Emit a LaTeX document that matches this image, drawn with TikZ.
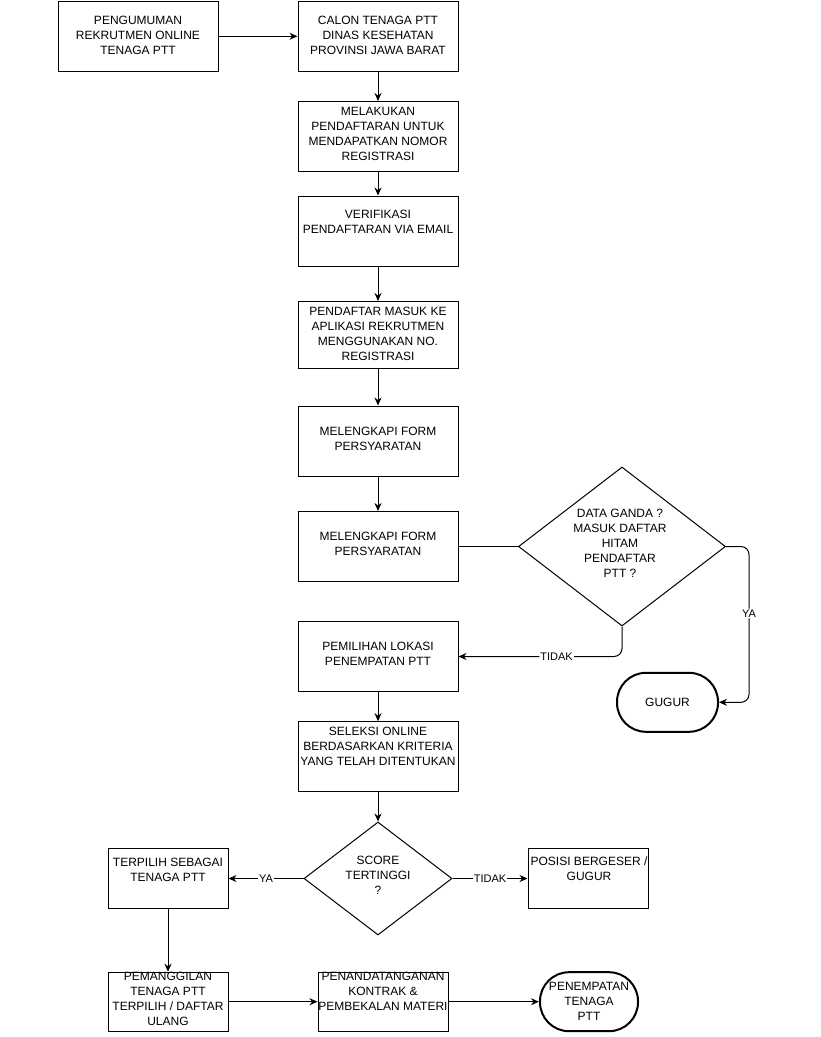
\documentclass[tikz,border=0pt]{standalone}
\usepackage{fontspec}
\setmainfont{Liberation Sans}
\usetikzlibrary{shapes.geometric,arrows.meta}
\begin{document}
\begin{tikzpicture}[x=1pt,y=-1pt,
  box/.style={draw, line width=1pt, fill=white, rectangle, inner sep=0pt, minimum width=160pt, minimum height=70pt},
  txt/.style={align=center, font=\fontsize{12}{15}\selectfont, inner sep=0pt},
  term/.style={draw, line width=2pt, fill=white, rectangle, rounded corners=29pt, inner sep=0pt, minimum width=100pt, minimum height=60pt},
  dia/.style={draw, line width=1pt, fill=white, diamond, inner sep=0pt},
  arr/.style={line width=1pt, -{Stealth[length=8pt,width=7pt]}},
  ln/.style={line width=1pt},
  lab/.style={fill=white, inner sep=1pt, font=\fontsize{11}{13}\selectfont}]

\path[use as bounding box, fill=white] (0,0) rectangle (820,1037);

% main column
\node[box] (b1) at (138,36.3) {};
\node[txt] (t1) at (138,35) {PENGUMUMAN\\REKRUTMEN ONLINE\\TENAGA PTT};
\node[box] (b2) at (378,36.3) {};
\node[txt] (t2) at (378,35) {CALON TENAGA PTT\\DINAS KESEHATAN\\PROVINSI JAWA BARAT};
\node[box] (b3) at (378,136.5) {};
\node[txt] (t3) at (378,134) {MELAKUKAN\\PENDAFTARAN UNTUK\\MENDAPATKAN NOMOR\\REGISTRASI};
\node[box] (b4) at (378,231) {};
\node[txt] (t4) at (378,222) {VERIFIKASI\\PENDAFTARAN VIA EMAIL};
\node[box, minimum height=67pt] (b5) at (378,335) {};
\node[txt] (t5) at (378,334) {PENDAFTAR MASUK KE\\APLIKASI REKRUTMEN\\MENGGUNAKAN NO.\\REGISTRASI};
\node[box] (b6) at (378,441) {};
\node[txt] (t6) at (378,438.5) {MELENGKAPI FORM\\PERSYARATAN};
\node[box] (b7) at (378,546.5) {};
\node[txt] (t7) at (378,544) {MELENGKAPI FORM\\PERSYARATAN};
\node[box] (b8) at (378,656.5) {};
\node[txt] (t8) at (378,654) {PEMILIHAN LOKASI\\PENEMPATAN PTT};
\node[box] (b9) at (378,756.7) {};
\node[txt] (t9) at (378,746.7) {SELEKSI ONLINE\\BERDASARKAN KRITERIA\\YANG TELAH DITENTUKAN};

% decision 1
\node[dia, minimum width=207pt, minimum height=159pt] (d1) at (622,546.5) {};
\node[txt] (td1) at (620,543.5) {DATA GANDA ?\\MASUK DAFTAR\\HITAM\\PENDAFTAR\\PTT ?};
\node[term, minimum width=101pt, minimum height=59pt] (g1) at (667.5,702.3) {};
\node[txt] (tg1) at (667.5,702.3) {GUGUR};

% decision 2
\node[dia, minimum width=148pt, minimum height=113pt] (d2) at (378,878.5) {};
\node[txt] (td2) at (378,875.7) {SCORE\\TERTINGGI\\?};
\node[box, minimum width=120pt, minimum height=60pt] (b10) at (168,878.5) {};
\node[txt] (t10) at (168,869.5) {TERPILIH SEBAGAI\\TENAGA PTT};
\node[box, minimum width=120pt, minimum height=60pt] (b11) at (588,878.5) {};
\node[txt] (t11) at (589,869) {POSISI BERGESER /\\GUGUR};

% bottom row
\node[box, minimum width=120pt, minimum height=59pt] (b12) at (168,1001.7) {};
\node[txt] (t12) at (168,998.7) {PEMANGGILAN\\TENAGA PTT\\TERPILIH / DAFTAR\\ULANG};
\node[box, minimum width=130pt, minimum height=59pt] (b13) at (383,1001.7) {};
\node[txt] (t13) at (383,991.7) {PENANDATANGANAN\\KONTRAK \&\\PEMBEKALAN MATERI};
\node[term, minimum width=98pt, minimum height=59pt] (g2) at (589,1001.7) {};
\node[txt] (tg2) at (589,1001.7) {PENEMPATAN\\TENAGA\\PTT};

% connectors
\draw[arr] (b1.east) -- (b2.west);
\draw[arr] (b2.south) -- (b3.north);
\draw[arr] (b3.south) -- (b4.north);
\draw[arr] (b4.south) -- (b5.north);
\draw[arr] (b5.south) -- (b6.north);
\draw[arr] (b6.south) -- (b7.north);
\draw[ln] (b7.east) -- (d1.west);
\draw[arr, rounded corners=8pt] (d1.east) -- (749,546.5) -- node[lab, pos=0.43] (lya1) {YA} (749,702.3) -- (g1.east);
\draw[arr, rounded corners=8pt] (d1.south) |- node[lab, pos=0.7] (ltd1) {TIDAK} (b8.east);
\draw[arr] (b8.south) -- (b9.north);
\draw[arr] (b9.south) -- (d2.north);
\draw[arr] (d2.west) -- node[lab] (lya2) {YA} (b10.east);
\draw[arr] (d2.east) -- node[lab] (ltd2) {TIDAK} (b11.west);
\draw[arr] (b10.south) -- (b12.north);
\draw[arr] (b12.east) -- (b13.west);
\draw[arr] (b13.east) -- (g2.west);
\end{tikzpicture}
\end{document}
